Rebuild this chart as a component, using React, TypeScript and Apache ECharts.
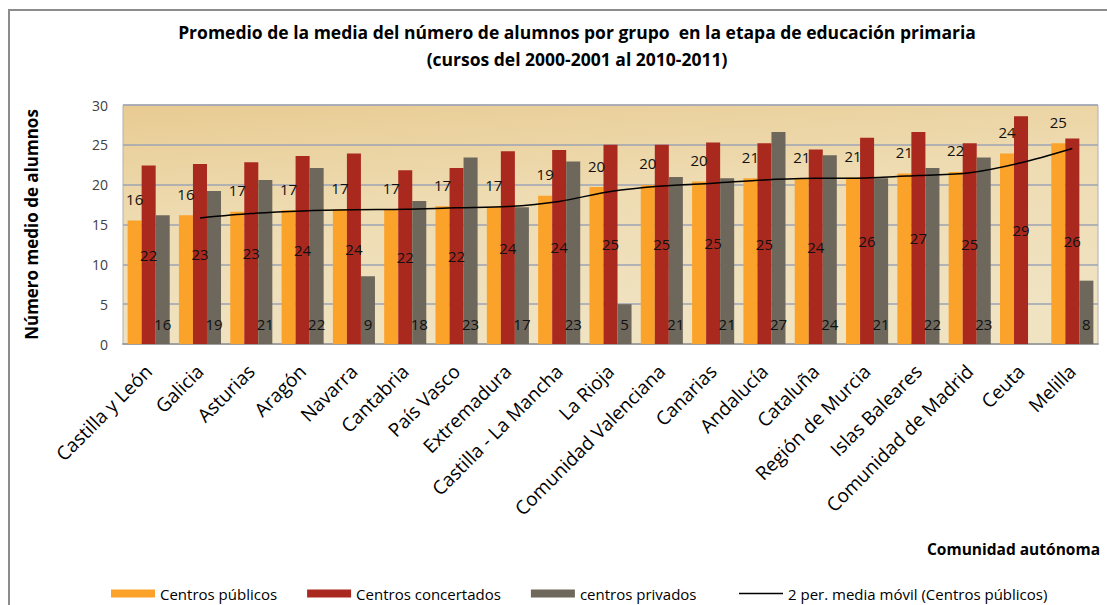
import React, { useEffect, useRef } from "react";
import * as echarts from "echarts";

const categories = [
  "Castilla y León", "Galicia", "Asturias", "Aragón", "Navarra", "Cantabria",
  "País Vasco", "Extremadura", "Castilla - La Mancha", "La Rioja",
  "Comunidad Valenciana", "Canarias", "Andalucía", "Cataluña",
  "Región de Murcia", "Islas Baleares", "Comunidad de Madrid", "Ceuta", "Melilla",
];
const publicos = [15.5, 16.15, 16.6, 16.8, 16.9, 16.9, 17.3, 17.2, 18.6, 19.7, 19.96, 20.4, 20.8, 20.8, 20.9, 21.4, 21.6, 23.9, 25.2];
const concertados = [22.4, 22.6, 22.8, 23.6, 23.9, 21.8, 22.1, 24.2, 24.35, 25.0, 25.0, 25.3, 25.2, 24.4, 25.9, 26.6, 25.2, 28.6, 25.8];
const privados: (number | null)[] = [16.15, 19.2, 20.6, 22.1, 8.5, 17.95, 23.4, 17.15, 22.9, 5.0, 20.96, 20.8, 26.6, 23.7, 20.8, 22.1, 23.4, null, 7.95];
const seriesNames = ["Centros públicos", "Centros concertados", "centros privados", "2 per. media móvil (Centros públicos)"];
const yTicks = { min: 0, max: 30, interval: 5 };

// 2-period moving average trendline of the public-centre series
const mediaMovil = publicos.map((v, i) => (i === 0 ? null : (publicos[i - 1] + v) / 2));

const FONT = "'Open Sans', 'Noto Sans', sans-serif";

export default function App() {
  const ref = useRef<HTMLDivElement>(null);
  useEffect(() => {
    if (!ref.current) return;
    const chart = echarts.init(ref.current, null, { renderer: "svg" });
    const lbl = (position: any, distance: number) => ({
      show: true,
      position,
      distance,
      color: "#111",
      fontSize: 15,
      fontFamily: FONT,
      formatter: (p: any) => (p.value == null ? "" : String(Math.round(p.value))),
    });
    const legendBase = {
      top: 581,
      itemWidth: 44,
      itemHeight: 8,
      itemGap: 30,
      textStyle: { fontSize: 15, color: "#000", fontFamily: FONT },
    };
    chart.setOption({
      animation: false,
      backgroundColor: "#ffffff",
      textStyle: { fontFamily: FONT },
      title: {
        text: "Promedio de la media del número de alumnos por grupo  en la etapa de educación primaria\n(cursos del 2000-2001 al 2010-2011)",
        left: 572,
        top: 13,
        textAlign: "center",
        textStyle: { fontSize: 17.5, fontWeight: "bold", color: "#000", lineHeight: 27, fontFamily: FONT },
      },
      graphic: [
        {
          type: "polyline",
          shape: { points: [[9, 620], [9, 10], [1120, 10]] },
          style: { stroke: "#8c8c8c", lineWidth: 2, fill: "none" },
          z: 0,
        },
        {
          type: "text",
          right: 7,
          top: 541,
          style: { text: "Comunidad autónoma", font: `bold 15.5px ${FONT}`, fill: "#000" },
        },
      ],
      legend: [
        {
          ...legendBase,
          left: 106,
          data: [
            { name: seriesNames[0], icon: "rect" },
            { name: seriesNames[1], icon: "rect" },
            { name: seriesNames[2], icon: "rect" },
          ],
        },
        {
          ...legendBase,
          left: 734,
          data: [
            { name: seriesNames[3], icon: "path://M0,0 L44,0 L44,1.5 L0,1.5 Z", itemStyle: { color: "#000" } },
          ],
        },
      ],
      grid: {
        left: 123,
        right: 9,
        top: 105,
        bottom: 261,
        show: true,
        borderColor: "#b0b0b0",
        borderWidth: 1,
        backgroundColor: {
          type: "linear", x: 0, y: 0, x2: 0.3, y2: 1,
          colorStops: [
            { offset: 0, color: "#e8cb92" },
            { offset: 0.45, color: "#eedbb1" },
            { offset: 1, color: "#f0e3c2" },
          ],
        },
      },
      xAxis: {
        type: "category",
        data: categories,
        axisTick: { show: false },
        axisLine: { lineStyle: { color: "#a0a0a0", width: 2 } },
        axisLabel: { rotate: 45, interval: 0, fontSize: 19, color: "#000", margin: 24, fontFamily: FONT },
      },
      yAxis: {
        type: "value",
        min: yTicks.min,
        max: yTicks.max,
        interval: yTicks.interval,
        name: "Número medio de alumnos",
        nameLocation: "middle",
        nameGap: 83,
        nameTextStyle: { fontSize: 17, fontWeight: "bold", color: "#000", fontFamily: FONT },
        axisLine: { show: false },
        axisTick: { show: false },
        axisLabel: { fontSize: 14, color: "#404040", margin: 15, fontFamily: FONT },
        splitLine: { lineStyle: { color: "#9ea3b4", width: 1.5 } },
      },
      series: [
        {
          name: seriesNames[0], type: "bar", data: publicos, barGap: "0%", barCategoryGap: "18%",
          itemStyle: { color: "#fba22a" }, label: lbl("top", 14),
        },
        {
          name: seriesNames[1], type: "bar", data: concertados, barGap: "0%", barCategoryGap: "18%",
          itemStyle: { color: "#a9291f" }, label: lbl("inside", 0),
        },
        {
          name: seriesNames[2], type: "bar", data: privados, barGap: "0%", barCategoryGap: "18%",
          itemStyle: { color: "#6e675b" }, label: lbl("insideBottom", 13),
        },
        {
          name: seriesNames[3], type: "line", data: mediaMovil, smooth: 0.3, showSymbol: false,
          symbol: "none", connectNulls: false, z: 5,
          lineStyle: { color: "#000", width: 1.5 }, itemStyle: { color: "#000" },
        },
      ],
    });
    return () => chart.dispose();
  }, []);
  return <div ref={ref} style={{ width: 1107, height: 605, position: "absolute", left: 0, top: 0 }} />;
}
